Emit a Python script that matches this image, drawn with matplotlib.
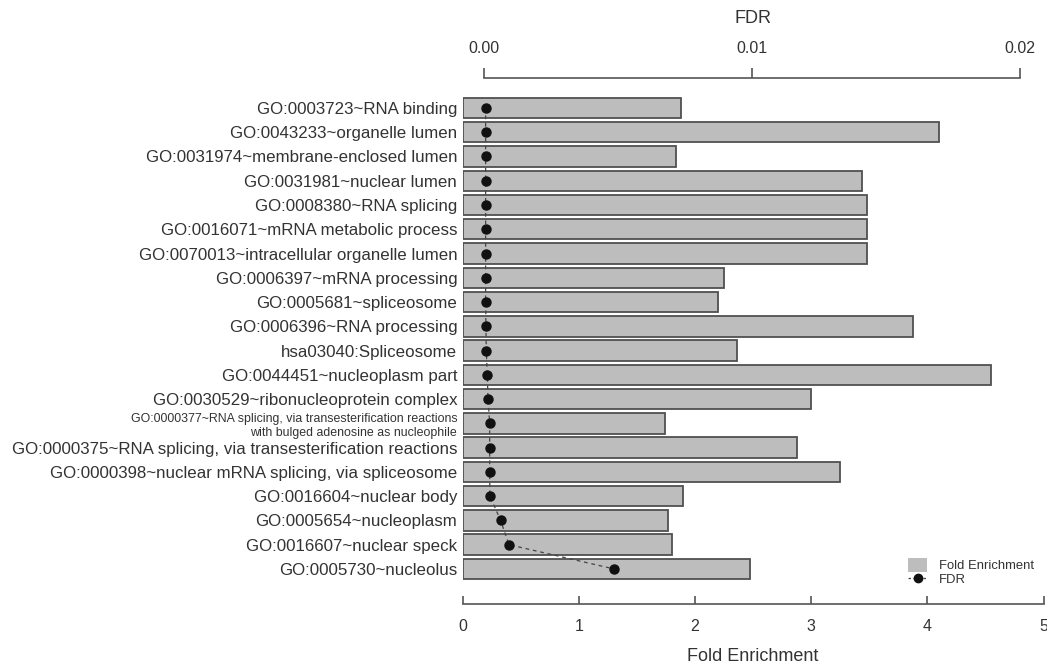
import matplotlib
matplotlib.use('Agg')
import matplotlib.pyplot as plt
from matplotlib.patches import Patch
from matplotlib.lines import Line2D

plt.rcParams['font.family'] = ['Liberation Sans', 'DejaVu Sans']
TXT = '#333333'

# GO terms, top to bottom
terms = ['GO:0003723~RNA binding',
         'GO:0043233~organelle lumen',
         'GO:0031974~membrane-enclosed lumen',
         'GO:0031981~nuclear lumen',
         'GO:0008380~RNA splicing',
         'GO:0016071~mRNA metabolic process',
         'GO:0070013~intracellular organelle lumen',
         'GO:0006397~mRNA processing',
         'GO:0005681~spliceosome',
         'GO:0006396~RNA processing',
         'hsa03040:Spliceosome',
         'GO:0044451~nucleoplasm part',
         'GO:0030529~ribonucleoprotein complex',
         'GO:0000377~RNA splicing, via transesterification reactions\n'
         'with bulged adenosine as nucleophile',
         'GO:0000375~RNA splicing, via transesterification reactions',
         'GO:0000398~nuclear mRNA splicing, via spliceosome',
         'GO:0016604~nuclear body',
         'GO:0005654~nucleoplasm',
         'GO:0016607~nuclear speck',
         'GO:0005730~nucleolus']
fold = [1.88, 4.10, 1.84, 3.44, 3.48, 3.48, 3.48, 2.25, 2.20, 3.88,
        2.36, 4.55, 3.00, 1.74, 2.88, 3.25, 1.90, 1.77, 1.80, 2.47]
fdr = [0.00005, 0.00005, 0.00005, 0.00005, 0.00005, 0.00005, 0.00005,
       0.00005, 0.00005, 0.00006, 0.000075, 0.00011, 0.00014, 0.0002,
       0.0002, 0.0002, 0.00021, 0.00061, 0.00092, 0.00484]
small_label = 13  # index of the two-line label drawn smaller

W, H = 1047, 665
fig = plt.figure(figsize=(W / 100, H / 100), dpi=100)
x0, x5 = 462.7, 1043.5
ytop, ybot = 93.4, 583.5
ax = fig.add_axes([x0 / W, 1 - ybot / H, (x5 - x0) / W, (ybot - ytop) / H])

ypos = list(range(len(terms)))
ax.barh(ypos, fold, height=0.84, color='#bdbdbd', edgecolor='#505050',
        linewidth=1.3, zorder=1)
ax.set_xlim(0, 5)
ax.set_ylim(19.6, -0.6)

for sp in ['top', 'right', 'left']:
    ax.spines[sp].set_visible(False)
ax.spines['bottom'].set_position(('outward', 14.8))
ax.spines['bottom'].set_bounds(0, 5)
ax.spines['bottom'].set_color('#555555')
ax.spines['bottom'].set_linewidth(1.2)
ax.set_xticks([0, 1, 2, 3, 4, 5])
ax.tick_params(axis='x', direction='in', length=6, width=1.2, color='#555555',
               labelsize=11.5, labelcolor=TXT, pad=11)
ax.set_xlabel('Fold Enrichment', fontsize=13, color=TXT, labelpad=10)

ax.set_yticks(ypos)
ax.set_yticklabels(terms)
ax.tick_params(axis='y', length=0, pad=4, labelsize=12.2, labelcolor=TXT)
for i, lab in enumerate(ax.get_yticklabels()):
    if i == small_label:
        lab.set_fontsize(8.9)
        lab.set_linespacing(1.25)
        lab.set_multialignment('right')

# FDR on a twin axis on top
ax2 = ax.twiny()
f0 = (x0 - 484.3) / 26800
f5 = (x5 - 484.3) / 26800
ax2.set_xlim(f0, f5)
ax2.plot(fdr, ypos, color='#444444', ls=(0, (3, 3)), lw=0.9, zorder=2)
ax2.plot(fdr, ypos, 'o', color='#111111', ms=6.5, zorder=3)
for sp in ['bottom', 'right', 'left']:
    ax2.spines[sp].set_visible(False)
ax2.spines['top'].set_position(('outward', 11))
ax2.spines['top'].set_bounds(0, 0.02)
ax2.spines['top'].set_color('#555555')
ax2.spines['top'].set_linewidth(1.2)
ax2.set_xticks([0, 0.01, 0.02])
ax2.set_xticklabels(['0.00', '0.01', '0.02'])
ax2.tick_params(axis='x', direction='out', length=7, width=1.2, color='#555555',
                labelsize=11.5, labelcolor=TXT, pad=9)
ax2.set_xlabel('FDR', fontsize=13, color=TXT, labelpad=13)
ax2.set_ylim(19.6, -0.6)

handles = [Patch(facecolor='#bdbdbd', edgecolor='none'),
           Line2D([], [], color='#444444', ls=(0, (2, 2)), lw=0.9,
                  marker='o', ms=6, markerfacecolor='#111111',
                  markeredgecolor='#111111')]
fig.legend(handles, ['Fold Enrichment', 'FDR'], loc='center left',
           bbox_to_anchor=(896 / W, 1 - 572 / H), frameon=False,
           fontsize=9.4, handlelength=1.5, handleheight=1.3, handletextpad=0.9,
           labelspacing=0.0, labelcolor=TXT)

fig.savefig('out.png', dpi=100)
